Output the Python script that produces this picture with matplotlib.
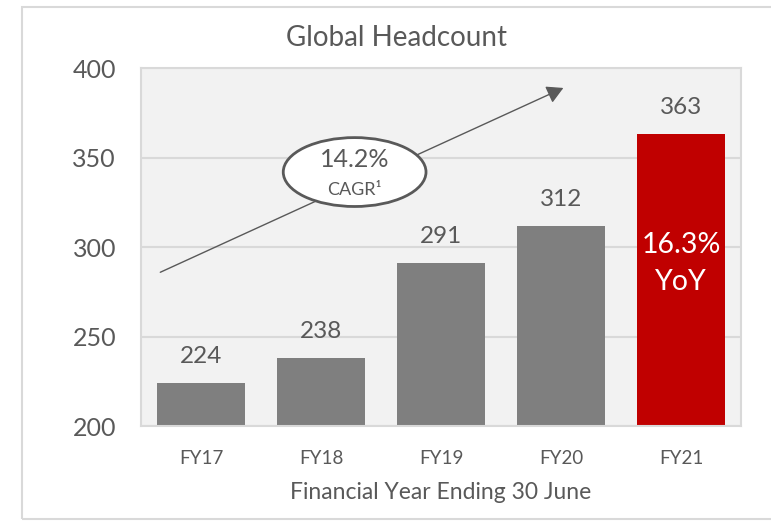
import matplotlib.pyplot as plt
from matplotlib.patches import Ellipse, Rectangle

# data
years = ['FY17', 'FY18', 'FY19', 'FY20', 'FY21']
headcount = [224, 238, 291, 312, 363]
bar_colors = ['#7f7f7f', '#7f7f7f', '#7f7f7f', '#7f7f7f', '#c00000']
yticks = [200, 250, 300, 350, 400]

txt = '#595959'
plt.rcParams['font.family'] = ['Lato', 'DejaVu Sans']

fig = plt.figure(figsize=(7.71, 5.21), dpi=100)
ax = fig.add_axes([0.183, 0.182, 0.778, 0.687])

# outer frame
fig.patches.append(Rectangle((22 / 771, 2 / 521), 1.0, 512 / 521, transform=fig.transFigure,
                             fill=False, edgecolor='#d9d9d9', linewidth=1.5, zorder=0))

ax.set_facecolor('#f2f2f2')
x = range(len(years))
ax.bar(x, headcount, width=0.73, color=bar_colors, zorder=2)
ax.set_xlim(-0.5, 4.5)
ax.set_ylim(200, 400)
ax.set_yticks(yticks)
ax.set_xticks(list(x))
ax.set_xticklabels(years)
ax.tick_params(axis='both', length=0, colors=txt)
ax.tick_params(axis='y', labelsize=18, pad=18)
ax.tick_params(axis='x', labelsize=13.5, pad=17)
ax.grid(axis='y', color='#d9d9d9', linewidth=1.5, zorder=1)
for s in ax.spines.values():
    s.set_color('#d9d9d9')
    s.set_linewidth(1.5)

ax.set_xlabel('Financial Year Ending 30 June', fontsize=16.5, color=txt, labelpad=11)
fig.text(397 / 771, 1 - 38 / 521, 'Global Headcount', ha='center', va='center',
         fontsize=20, color=txt)

# value labels
for i, v in enumerate(headcount):
    ax.annotate(str(v), (i, v), xytext=(0, 11.5), textcoords='offset points',
                ha='center', va='bottom', fontsize=17.5, color=txt)

ax.text(4, 291, '16.3%\nYoY', ha='center', va='center', fontsize=20.5,
        color='white', linespacing=1.5, zorder=3)

# CAGR arrow and bubble
ax.annotate('', xy=(3.02, 389), xytext=(-0.34, 286),
            arrowprops=dict(arrowstyle='-|>,head_length=1.0,head_width=0.55',
                            color='#595959', lw=1.0, shrinkA=0, shrinkB=0), zorder=4)
ax.add_patch(Ellipse((1.28, 342), 1.19, 38.5, facecolor='white',
                     edgecolor='#595959', linewidth=2, zorder=5))
ax.text(1.28, 349, '14.2%', ha='center', va='center', fontsize=18, color=txt, zorder=6)
ax.text(1.28, 332, 'CAGR¹', ha='center', va='center', fontsize=13, color=txt, zorder=6)

fig.savefig('out.png', dpi=100)
